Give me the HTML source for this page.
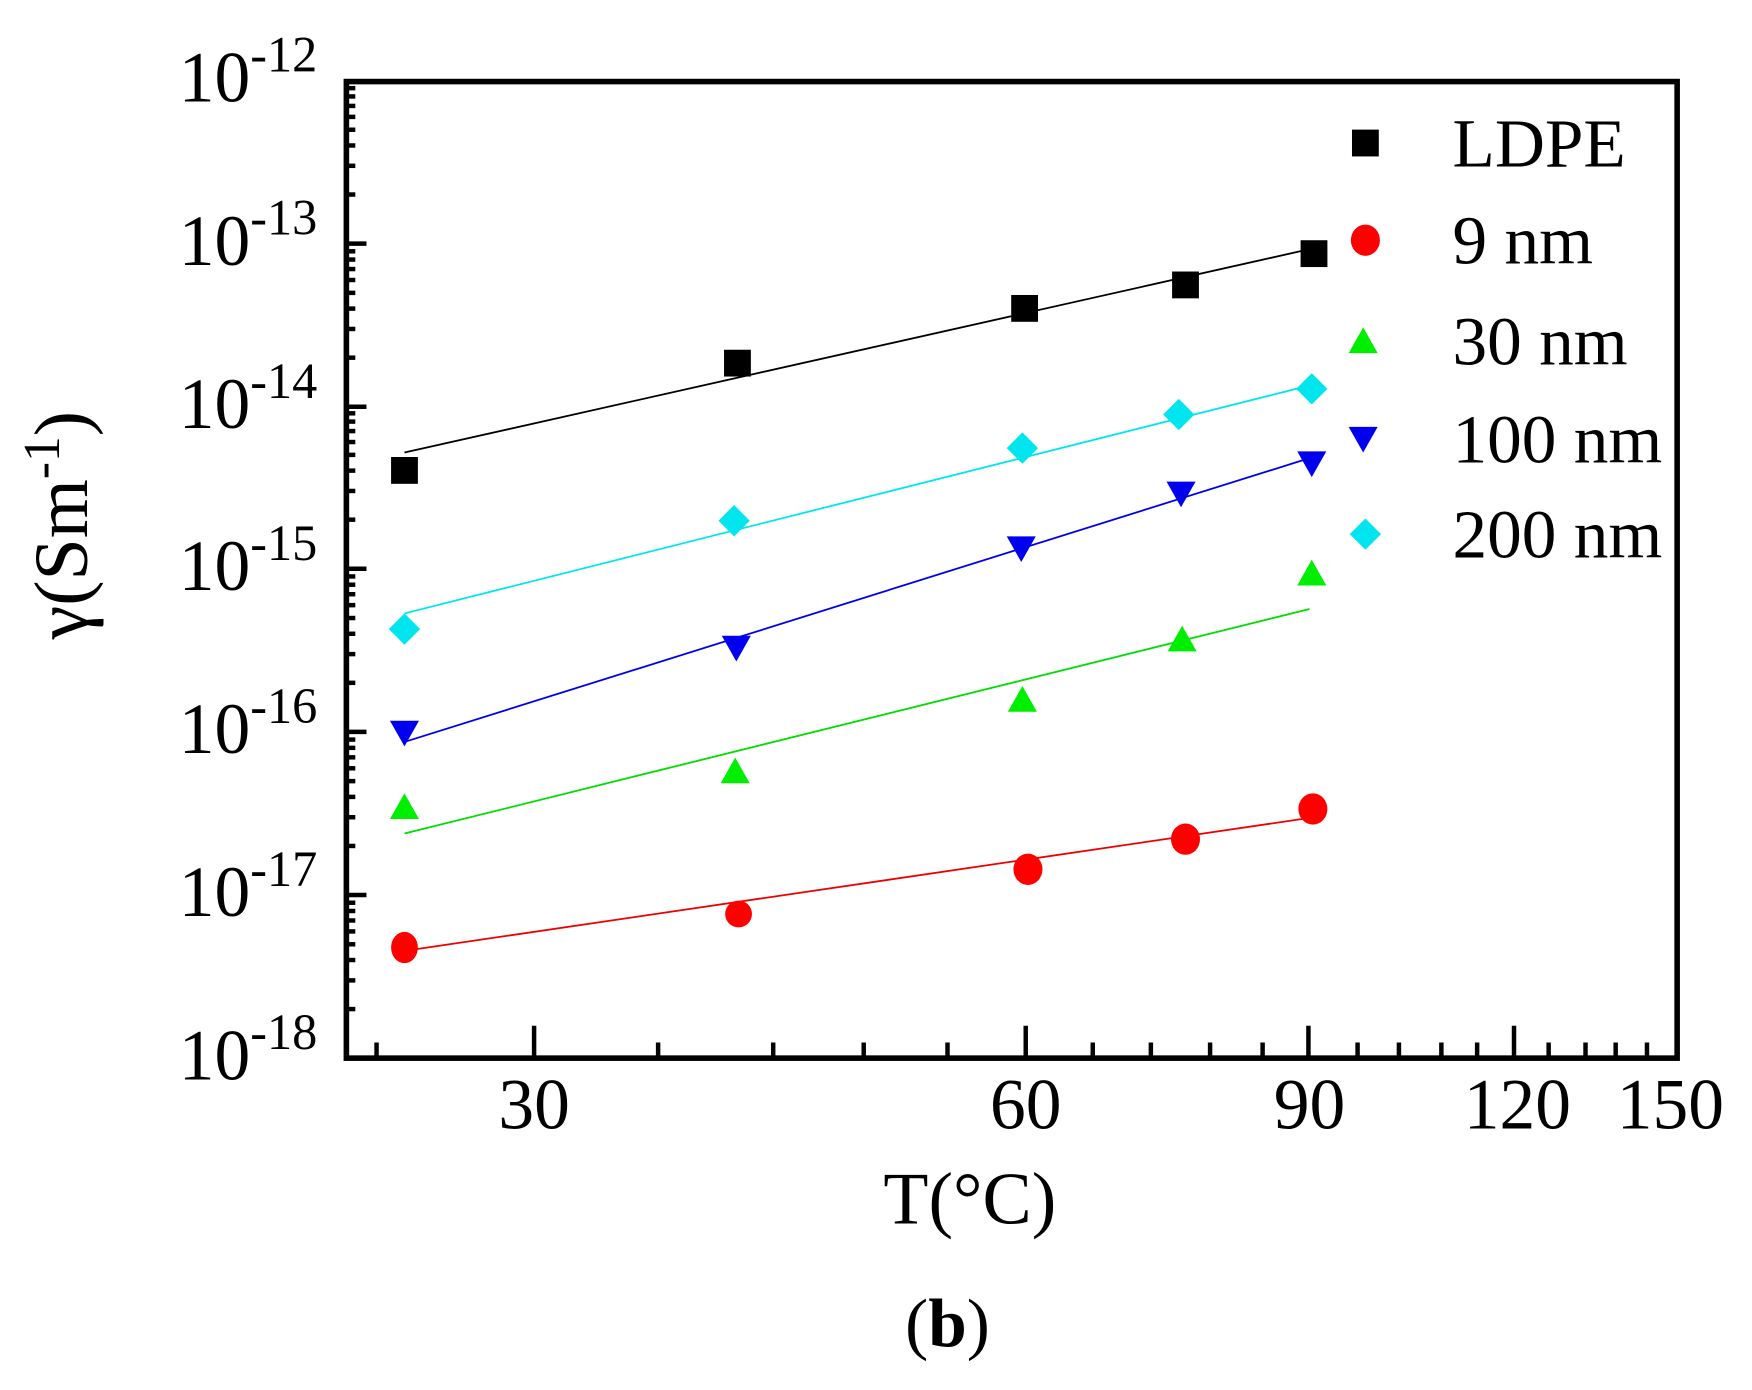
<!DOCTYPE html>
<html><head><meta charset="utf-8"><style>
html,body{margin:0;padding:0;background:#fff;}
svg{display:block;}
text{font-family:"Liberation Serif",serif;fill:#000;}
</style></head><body>
<svg width="1752" height="1390" viewBox="0 0 1568 1244" preserveAspectRatio="none" xmlns="http://www.w3.org/2000/svg">
<defs>
<g id="mt" stroke="#000" stroke-width="4">
<line x1="310" x2="318" y1="-43.9" y2="-43.9"/><line x1="310" x2="318" y1="-69.6" y2="-69.6"/>
<line x1="310" x2="318" y1="-87.8" y2="-87.8"/><line x1="310" x2="318" y1="-101.9" y2="-101.9"/>
<line x1="310" x2="318" y1="-113.4" y2="-113.4"/><line x1="310" x2="318" y1="-123.2" y2="-123.2"/>
<line x1="310" x2="318" y1="-131.7" y2="-131.7"/><line x1="310" x2="318" y1="-139.1" y2="-139.1"/>
</g>
</defs>
<use href="#mt" transform="translate(0,218)"/>
<use href="#mt" transform="translate(0,364)"/>
<use href="#mt" transform="translate(0,509)"/>
<use href="#mt" transform="translate(0,655)"/>
<use href="#mt" transform="translate(0,801)"/>
<use href="#mt" transform="translate(0,947)"/>
<g stroke="#000" stroke-width="4">
<line x1="310" x2="328" y1="218" y2="218"/><line x1="310" x2="328" y1="364" y2="364"/>
<line x1="310" x2="328" y1="509" y2="509"/><line x1="310" x2="328" y1="655" y2="655"/>
<line x1="310" x2="328" y1="801" y2="801"/>
<line x1="478" x2="478" y1="947" y2="918"/><line x1="918" x2="918" y1="947" y2="918"/>
<line x1="1171" x2="1171" y1="947" y2="918"/><line x1="1355" x2="1355" y1="947" y2="918"/>
<line x1="337" x2="337" y1="947" y2="933"/><line x1="589" x2="589" y1="947" y2="933"/>
<line x1="692" x2="692" y1="947" y2="933"/><line x1="773" x2="773" y1="947" y2="933"/>
<line x1="848" x2="848" y1="947" y2="933"/><line x1="978" x2="978" y1="947" y2="933"/>
<line x1="1030" x2="1030" y1="947" y2="933"/><line x1="1083" x2="1083" y1="947" y2="933"/>
<line x1="1130" x2="1130" y1="947" y2="933"/><line x1="1215" x2="1215" y1="947" y2="933"/>
<line x1="1252" x2="1252" y1="947" y2="933"/><line x1="1290" x2="1290" y1="947" y2="933"/>
<line x1="1322" x2="1322" y1="947" y2="933"/><line x1="1386" x2="1386" y1="947" y2="933"/>
<line x1="1419" x2="1419" y1="947" y2="933"/><line x1="1446" x2="1446" y1="947" y2="933"/>
<line x1="1474" x2="1474" y1="947" y2="933"/>
</g>
<rect x="310" y="73" width="1191" height="874" fill="none" stroke="#000" stroke-width="5"/>
<g font-size="64">
<text x="160" y="91">10<tspan font-size="45" dy="-27">-12</tspan></text>
<text x="160" y="237">10<tspan font-size="45" dy="-27">-13</tspan></text>
<text x="160" y="383">10<tspan font-size="45" dy="-27">-14</tspan></text>
<text x="160" y="528">10<tspan font-size="45" dy="-27">-15</tspan></text>
<text x="160" y="674">10<tspan font-size="45" dy="-27">-16</tspan></text>
<text x="160" y="820">10<tspan font-size="45" dy="-27">-17</tspan></text>
<text x="160" y="966">10<tspan font-size="45" dy="-27">-18</tspan></text>
</g>
<g font-size="64" text-anchor="middle">
<text x="478" y="1010">30</text><text x="918" y="1010">60</text><text x="1172" y="1010">90</text>
<text x="1358" y="1010">120</text><text x="1495" y="1010">150</text>
<text x="868" y="1095" font-size="66">T(°C)</text>
<text x="848" y="1205" font-size="62">(<tspan font-weight="bold">b</tspan>)</text>
</g>
<text transform="translate(78,470) rotate(-90)" text-anchor="middle" font-size="68">γ(Sm<tspan font-size="46" dy="-25">-1</tspan><tspan dy="25">)</tspan></text>
<g fill="none" stroke-width="1.6">
<polyline stroke="#000" points="362,405 1172,223"/>
<polyline stroke="#00e5ee" points="362,549 1172,345"/>
<polyline stroke="#0000ee" points="362,664 1172,410"/>
<polyline stroke="#00dd00" points="362,746 1172,545"/>
<polyline stroke="#ee0000" points="362,851 1172,732"/>
</g>
<g fill="#000">
<rect x="350" y="409" width="24" height="24"/><rect x="648" y="313" width="24" height="24"/>
<rect x="905" y="264" width="24" height="24"/><rect x="1049" y="243" width="24" height="24"/>
<rect x="1164" y="215" width="24" height="24"/><rect x="1210" y="116" width="24" height="24"/>
</g>
<g fill="#ff0000">
<ellipse cx="362" cy="848" rx="12" ry="14"/><ellipse cx="661" cy="818" rx="12" ry="12"/>
<ellipse cx="920" cy="778" rx="13" ry="14"/><ellipse cx="1061" cy="751" rx="13" ry="14"/>
<ellipse cx="1175" cy="724" rx="13" ry="14"/><ellipse cx="1222" cy="215" rx="13" ry="14"/>
</g>
<g fill="#00ee00">
<polygon points="362,710 375,733 349,733"/><polygon points="658,678 671,701 645,701"/>
<polygon points="915,614 928,637 902,637"/><polygon points="1058,560 1071,583 1045,583"/>
<polygon points="1174,501 1187,524 1161,524"/><polygon points="1220,293 1233,316 1207,316"/>
</g>
<g fill="#0000ee">
<polygon points="349,645 375,645 362,668"/><polygon points="646,569 672,569 659,592"/>
<polygon points="901,480 927,480 914,503"/><polygon points="1044,431 1070,431 1057,454"/>
<polygon points="1161,404 1187,404 1174,427"/><polygon points="1207,382 1233,382 1220,405"/>
</g>
<g fill="#00e5ee">
<polygon points="362,549 376,563 362,577 348,563"/><polygon points="657,452 671,466 657,480 643,466"/>
<polygon points="915,387 929,401 915,415 901,401"/><polygon points="1055,357 1069,371 1055,385 1041,371"/>
<polygon points="1174,334 1188,348 1174,362 1160,348"/><polygon points="1222,464 1236,478 1222,492 1208,478"/>
</g>
<g font-size="62">
<text x="1300" y="149">LDPE</text><text x="1300" y="236">9 nm</text><text x="1300" y="326">30 nm</text>
<text x="1300" y="414">100 nm</text><text x="1300" y="499">200 nm</text>
</g>
</svg>
</body></html>
